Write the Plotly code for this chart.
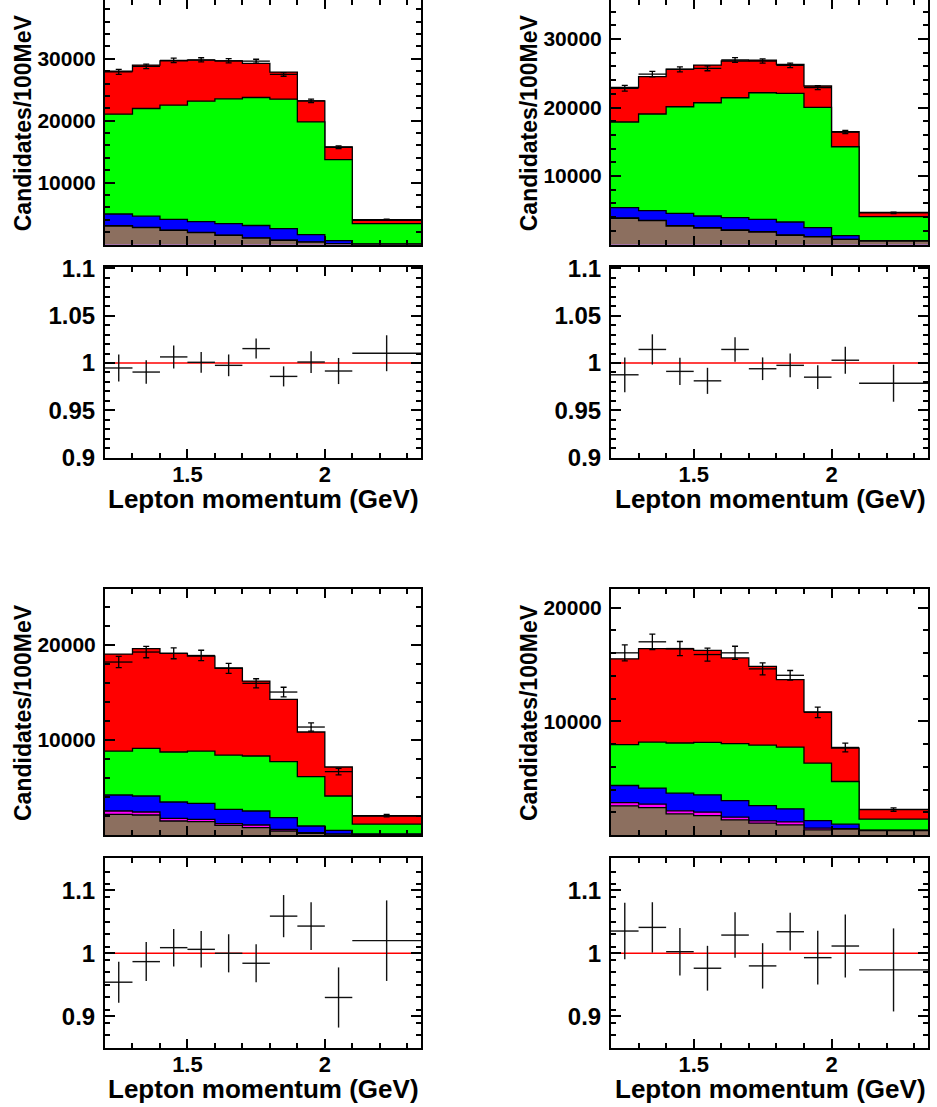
import numpy as np
import plotly.graph_objects as go

W, H = 937, 1107

# ---------------- data ----------------
edges = [1.2, 1.3, 1.4, 1.5, 1.6, 1.7, 1.8, 1.9, 2.0, 2.1, 2.35]
centers = [1.25, 1.35, 1.45, 1.55, 1.65, 1.75, 1.85, 1.95, 2.05, 2.225]
halfw = [0.05] * 9 + [0.125]

# Top-left panel
tl_brown = [2980, 2720, 2280, 1910, 1470, 1040, 660, 390, 130, 40]
tl_magenta = [50, 50, 50, 50, 40, 40, 30, 20, 10, 0]
tl_blue = [1900, 1800, 1730, 1750, 1860, 1990, 1870, 1180, 500, 20]
tl_green = [16120, 17400, 18450, 19440, 20160, 20680, 20920, 18210, 13080, 3300]
tl_red = [6960, 7010, 7170, 6630, 6150, 5500, 4370, 3400, 2040, 540]
tl_data = [27900, 28770, 29740, 29840, 29680, 29620, 27470, 23200, 15710, 4010]
tl_data_err = [400, 360, 360, 330, 340, 310, 290, 270, 220, 75]
tl_ratio = [0.9947, 0.9904, 1.0064, 1.0007, 0.9975, 1.0152, 0.9858, 1.0010, 0.9915, 1.0103]
tl_ratio_err = [0.0142, 0.0124, 0.0122, 0.0110, 0.0115, 0.0106, 0.0106, 0.0115, 0.0138, 0.0190]

# Top-right panel
tr_brown = [3825, 3475, 2700, 2380, 2050, 1800, 1330, 1100, 740, 500]
tr_magenta = [60, 60, 60, 80, 80, 80, 60, 40, 20, 10]
tr_blue = [1490, 1400, 1795, 1700, 1780, 1800, 1895, 1313, 525, 30]
tr_green = [12510, 14120, 15560, 16540, 17520, 18480, 18790, 17580, 12990, 3520]
tr_red = [5065, 5450, 5500, 5505, 5360, 4775, 4230, 3110, 2190, 640]
tr_data = [22805, 24890, 25580, 25725, 26937, 26791, 26163, 22893, 16425, 4620]
tr_data_err = [420, 400, 365, 355, 350, 320, 330, 285, 235, 90]
tr_ratio = [0.9875, 1.0143, 0.9911, 0.9811, 1.0143, 0.9939, 0.9975, 0.9850, 1.0029, 0.9786]
tr_ratio_err = [0.0184, 0.0160, 0.0143, 0.0138, 0.0130, 0.0120, 0.0125, 0.0125, 0.0143, 0.0196]

# Bottom-left panel
bl_brown = [2180, 2105, 1475, 1410, 1020, 780, 420, 180, 90, 40]
bl_magenta = [345, 315, 285, 245, 180, 275, 180, 75, 10, 5]
bl_blue = [1685, 1685, 1715, 1680, 1505, 1470, 1230, 695, 395, 75]
bl_green = [4630, 5020, 5265, 5505, 5715, 5790, 5895, 5200, 3610, 1030]
bl_red = [10210, 10495, 10390, 10000, 9160, 7895, 6560, 4695, 3055, 850]
bl_data = [18210, 19263, 19126, 18900, 17547, 15968, 15052, 11368, 6673, 2040]
bl_data_err = [590, 600, 570, 550, 530, 485, 505, 430, 340, 130]
bl_ratio = [0.9541, 0.9868, 1.0090, 1.0063, 1.0000, 0.9842, 1.0591, 1.0433, 0.9298, 1.0201]
bl_ratio_err = [0.0325, 0.0310, 0.0298, 0.0290, 0.0303, 0.0303, 0.0335, 0.0380, 0.0478, 0.0640]

# Bottom-right panel
br_brown = [2566, 2416, 1860, 1711, 1332, 1040, 891, 450, 511, 388]
br_magenta = [290, 300, 265, 300, 238, 203, 264, 150, 49, 12]
br_blue = [1500, 1410, 1560, 1525, 1463, 1350, 1147, 670, 392, 20]
br_green = [3590, 4055, 4410, 4610, 5000, 5325, 5440, 5060, 3755, 980]
br_red = [7555, 8225, 8290, 8110, 7555, 6930, 5935, 4500, 2945, 850]
br_data = [16031, 17001, 16410, 15881, 16031, 14620, 14056, 10793, 7707, 2240]
br_data_err = [700, 680, 620, 570, 580, 530, 420, 460, 385, 150]
br_ratio = [1.0354, 1.0412, 1.0026, 0.9763, 1.0290, 0.9800, 1.0343, 0.9931, 1.0116, 0.9736]
br_ratio_err = [0.0449, 0.0400, 0.0377, 0.0356, 0.0361, 0.0361, 0.0300, 0.0427, 0.0500, 0.0660]

layer_colors = ["#8c6f5f", "#ff00ff", "#0000ff", "#00ff00", "#ff0000"]

ytitle = "Candidates/100MeV"
xtitle = "Lepton momentum (GeV)"

panels = [
    dict(comp=[tl_brown, tl_magenta, tl_blue, tl_green, tl_red], data=tl_data, derr=tl_data_err,
         ratio=tl_ratio, rerr=tl_ratio_err, xpx=(105, 421), toppx=(0, 244.5), ratpx=(267, 458),
         ymax=39500, ytv=[10000, 20000, 30000], rrange=(0.9, 1.1),
         rtv=[0.9, 0.95, 1.0, 1.05, 1.1], rtt=["0.9", "0.95", "1", "1.05", "1.1"], rminor=0.01),
    dict(comp=[tr_brown, tr_magenta, tr_blue, tr_green, tr_red], data=tr_data, derr=tr_data_err,
         ratio=tr_ratio, rerr=tr_ratio_err, xpx=(611, 928), toppx=(0, 244.5), ratpx=(267, 458),
         ymax=35700, ytv=[10000, 20000, 30000], rrange=(0.9, 1.1),
         rtv=[0.9, 0.95, 1.0, 1.05, 1.1], rtt=["0.9", "0.95", "1", "1.05", "1.1"], rminor=0.01),
    dict(comp=[bl_brown, bl_magenta, bl_blue, bl_green, bl_red], data=bl_data, derr=bl_data_err,
         ratio=bl_ratio, rerr=bl_ratio_err, xpx=(105, 421), toppx=(589, 835), ratpx=(858, 1048),
         ymax=25900, ytv=[10000, 20000], rrange=(0.85, 1.15),
         rtv=[0.9, 1.0, 1.1], rtt=["0.9", "1", "1.1"], rminor=0.02),
    dict(comp=[br_brown, br_magenta, br_blue, br_green, br_red], data=br_data, derr=br_data_err,
         ratio=br_ratio, rerr=br_ratio_err, xpx=(611, 928), toppx=(589, 835), ratpx=(858, 1048),
         ymax=21650, ytv=[10000, 20000], rrange=(0.85, 1.15),
         rtv=[0.9, 1.0, 1.1], rtt=["0.9", "1", "1.1"], rminor=0.02),
]

FONT = "Liberation Sans, Arial, Helvetica, sans-serif"
fig = go.Figure()
layout = dict(width=W, height=H, margin=dict(l=0, r=0, t=0, b=0, autoexpand=False),
              paper_bgcolor="white", plot_bgcolor="white", showlegend=False,
              font=dict(family=FONT, color="black"), template="none")
shapes = []
annotations = []

def ydom(px):
    return [1 - px[1] / H, 1 - px[0] / H]

xminor_vals = [round(1.2 + 0.1 * i, 2) for i in range(12)]

for i, p in enumerate(panels):
    ti = 2 * i + 1
    ri = 2 * i + 2
    xt, yt = f"x{ti}", f"y{ti}"
    xr, yr = f"x{ri}", f"y{ri}"
    xdom = [p["xpx"][0] / W, p["xpx"][1] / W]

    # stacked histogram
    cum = np.cumsum(np.array(p["comp"], dtype=float), axis=0)
    for k in range(len(p["comp"]) - 1, -1, -1):
        tops = list(cum[k]) + [cum[k][-1]]
        fig.add_trace(go.Scatter(x=edges, y=tops, xaxis=xt, yaxis=yt, mode="lines",
                                 line=dict(shape="hv", color="black", width=1.3),
                                 fill="tozeroy", fillcolor=layer_colors[k], hoverinfo="skip"))
    # data points
    fig.add_trace(go.Scatter(x=centers, y=p["data"], xaxis=xt, yaxis=yt, mode="markers",
                             marker=dict(size=1, color="black"),
                             error_y=dict(type="data", array=p["derr"], color="black", thickness=1.3, width=3),
                             error_x=dict(type="data", array=halfw, color="black", thickness=1.3, width=0)))
    # ratio
    fig.add_trace(go.Scatter(x=centers, y=p["ratio"], xaxis=xr, yaxis=yr, mode="markers",
                             marker=dict(size=1, color="black"),
                             error_y=dict(type="data", array=p["rerr"], color="#111111", thickness=1.4, width=0),
                             error_x=dict(type="data", array=halfw, color="#111111", thickness=1.4, width=0)))
    shapes.append(dict(type="line", xref=xr, yref=yr, x0=1.2, x1=2.35, y0=1, y1=1,
                       line=dict(color="red", width=1.6), layer="below"))

    common_x = dict(range=[1.2, 2.35], showgrid=False, zeroline=False, showline=True,
                    linecolor="black", linewidth=2, mirror="allticks", ticks="inside",
                    ticklen=9, tickwidth=1.5, tickcolor="black", tickmode="array",
                    tickvals=[1.5, 2.0], ticktext=["1.5", "2"], automargin=False,
                    minor=dict(tickmode="array", tickvals=xminor_vals, ticks="inside",
                               ticklen=5, tickwidth=1.5, tickcolor="black", showgrid=False),
                    domain=xdom)
    layout[f"xaxis{ti}"] = dict(common_x, anchor=yt, showticklabels=False)
    layout[f"xaxis{ri}"] = dict(common_x, anchor=yr, showticklabels=True, ticklabelstandoff=-4,
                                tickfont=dict(family=FONT, size=22, weight="bold", color="black"))

    yminor_top = [v for v in range(2000, int(p["ymax"]), 2000) if v % 10000 != 0]
    layout[f"yaxis{ti}"] = dict(range=[0, p["ymax"]], domain=ydom(p["toppx"]), anchor=xt,
                                showgrid=False, zeroline=False, showline=True, linecolor="black",
                                linewidth=2, mirror="allticks", ticks="inside", ticklen=10,
                                tickwidth=1.5, tickcolor="black", tickmode="array",
                                tickvals=p["ytv"], ticktext=[str(v) for v in p["ytv"]],
                                tickfont=dict(family=FONT, size=21, weight="bold", color="black"),
                                ticklabelstandoff=3, automargin=False,
                                minor=dict(tickmode="array", tickvals=yminor_top, ticks="inside",
                                           ticklen=5, tickwidth=1.5, tickcolor="black", showgrid=False))
    r0, r1 = p["rrange"]
    n = int(round((r1 - r0) / p["rminor"]))
    rminor_vals = [round(r0 + p["rminor"] * j, 3) for j in range(n + 1)]
    rminor_vals = [v for v in rminor_vals if all(abs(v - t) > 1e-6 for t in p["rtv"])]
    layout[f"yaxis{ri}"] = dict(range=[r0 - 0.0005, r1 + 0.0015], domain=ydom(p["ratpx"]), anchor=xr,
                                showgrid=False, zeroline=False, showline=True, linecolor="black",
                                linewidth=2, mirror="allticks", ticks="inside", ticklen=10,
                                tickwidth=1.5, tickcolor="black", tickmode="array",
                                tickvals=p["rtv"], ticktext=p["rtt"],
                                tickfont=dict(family=FONT, size=24, weight="bold", color="black"),
                                ticklabelstandoff=3, automargin=False,
                                minor=dict(tickmode="array", tickvals=rminor_vals, ticks="inside",
                                           ticklen=5, tickwidth=1.5, tickcolor="black", showgrid=False))

    # axis titles
    yc = (p["toppx"][0] + 13 + p["toppx"][1] - 11) / 2
    annotations.append(dict(text=ytitle, textangle=-90, xref="paper", yref="paper",
                            x=(p["xpx"][0] - 82) / W, y=1 - yc / H, xanchor="center", yanchor="middle",
                            showarrow=False, font=dict(family=FONT, size=23, weight="bold", color="black")))
    annotations.append(dict(text=xtitle, xref="paper", yref="paper",
                            x=p["xpx"][1] / W, y=1 - (p["ratpx"][1] + 41) / H, xanchor="right", yanchor="middle",
                            showarrow=False, font=dict(family=FONT, size=26, weight="bold", color="black")))

layout["shapes"] = shapes
layout["annotations"] = annotations
fig.update_layout(**layout)
fig.write_html("out.html")
